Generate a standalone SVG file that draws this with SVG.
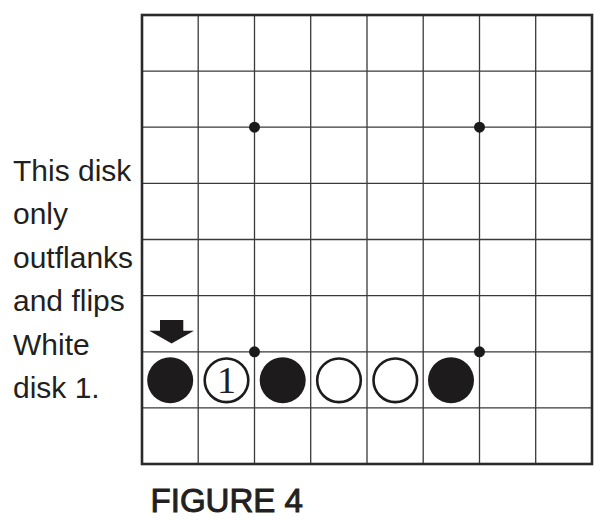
<svg xmlns="http://www.w3.org/2000/svg" width="611" height="532" viewBox="0 0 611 532">
<style>
.txt{font-family:"Liberation Sans",Arial,sans-serif;font-size:30px;fill:#231f20}
.grid{stroke:#3a3a3a;stroke-width:1.3;fill:none}
.border{stroke:#2a2a2a;stroke-width:2.6;fill:none}
.star{fill:#1a1a1a}
.black{fill:#1e1b1c}
.white{fill:#fff;stroke:#1e1b1c;stroke-width:2.6}
</style>
<rect width="611" height="532" fill="#fff"/>
<g id="board">
<path class="grid" d="M198.2 15V464M254.5 15V464M310.7 15V464M367 15V464M423.2 15V464M479.5 15V464M535.7 15V464M142 71.1H592M142 127.2H592M142 183.4H592M142 239.5H592M142 295.6H592M142 351.8H592M142 407.9H592"/>
<rect class="border" x="142" y="15" width="450" height="449"/>
<circle class="star" cx="254.5" cy="127.2" r="5.5"/>
<circle class="star" cx="479.5" cy="127.2" r="5.5"/>
<circle class="star" cx="254.5" cy="351.8" r="5.5"/>
<circle class="star" cx="479.5" cy="351.8" r="5.5"/>
</g>
<g id="disks">
<circle class="black" cx="170.2" cy="380.3" r="23"/>
<g id="disk1">
<circle class="white" cx="226.5" cy="380.3" r="21.8"/>
<text x="226.5" y="392.5" text-anchor="middle" font-family="'Liberation Serif','Times New Roman',serif" font-size="38" fill="#231f20">1</text>
</g>
<circle class="black" cx="282.7" cy="380.3" r="23"/>
<circle class="white" cx="339" cy="380.3" r="21.8"/>
<circle class="white" cx="395.3" cy="380.3" r="21.8"/>
<circle class="black" cx="451" cy="380.3" r="23"/>
</g>
<g id="arrow">
<path class="black" d="M160 320H183.3V330.7H194L171.6 343.5L149.3 330.7H160Z"/>
</g>
<g id="caption">
<text class="txt" x="13" y="180.8">This disk</text>
<text class="txt" x="13" y="224.3">only</text>
<text class="txt" x="13" y="267.8">outflanks</text>
<text class="txt" x="13" y="311.3">and flips</text>
<text class="txt" x="13" y="354.8">White</text>
<text class="txt" x="13" y="398.3">disk 1.</text>
</g>
<g id="title">
<text x="150.5" y="511.7" font-family="'Liberation Sans',Arial,sans-serif" font-size="34" fill="#231f20" stroke="#231f20" stroke-width="1" textLength="152.5" lengthAdjust="spacingAndGlyphs">FIGURE 4</text>
</g>
</svg>
